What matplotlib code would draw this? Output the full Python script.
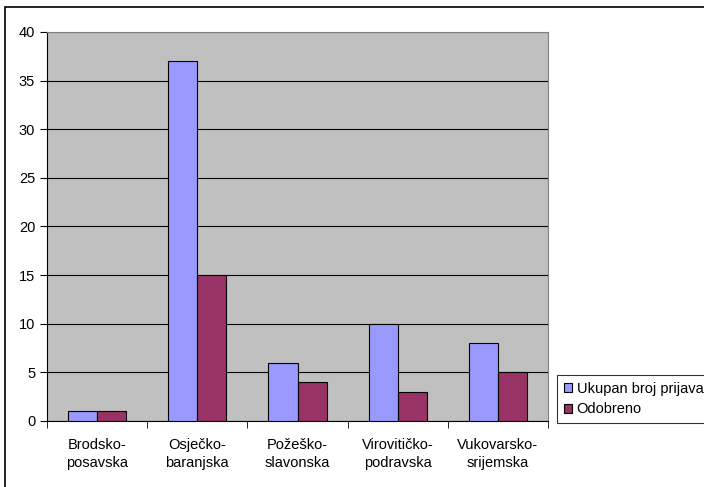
import matplotlib
matplotlib.use("Agg")
import matplotlib.pyplot as plt
import numpy as np
from matplotlib.patches import Rectangle

categories = ["Brodsko-\nposavska", "Osječko-\nbaranjska", "Požeško-\nslavonska", "Virovitičko-\npodravska", "Vukovarsko-\nsrijemska"]
ukupan = [1, 37, 6, 10, 8]
odobreno = [1, 15, 4, 3, 5]
series_names = ["Ukupan broj prijava", "Odobreno"]
yticks = [0, 5, 10, 15, 20, 25, 30, 35, 40]

plt.rcParams['font.family'] = ['Liberation Sans', 'DejaVu Sans']
fig = plt.figure(figsize=(7.04, 4.87), dpi=100)
fig.patches.append(Rectangle((5/704, -0.1), 1.0, 1.1 - 7/487, transform=fig.transFigure,
                             fill=False, edgecolor='black', linewidth=1.2))
ax = fig.add_axes([47/704, 1-421/487, (548-47)/704, (421-32)/487])
ax.set_facecolor('#C0C0C0')
x = np.arange(len(categories))
w = 0.29
ax.bar(x - w/2, ukupan, w, color='#9999FF', edgecolor='black', linewidth=0.8, label=series_names[0], zorder=3)
ax.bar(x + w/2, odobreno, w, color='#993366', edgecolor='black', linewidth=0.8, label=series_names[1], zorder=3)
ax.set_xlim(-0.5, len(categories) - 0.5)
ax.set_ylim(0, 40)
ax.set_yticks(yticks)
ax.yaxis.grid(True, color='black', linewidth=0.8, zorder=1)
ax.set_axisbelow(True)
ax.set_xticks(x)
ax.set_xticklabels(categories, fontsize=10.5, linespacing=1.35)
ax.set_xticks(np.arange(len(categories) + 1) - 0.5, minor=True)
ax.tick_params(axis='x', which='major', length=0, pad=12)
ax.tick_params(axis='x', which='minor', length=5, direction='out')
ax.tick_params(axis='y', labelsize=10.5, length=5, direction='out')
for s in ['top', 'right']:
    ax.spines[s].set_color('#808080')
for s in ['left', 'bottom']:
    ax.spines[s].set_color('black')
leg = fig.legend(loc='lower left', bbox_to_anchor=(557/704, 1-423/487, (720-557)/704, (423-372)/487),
                 mode='expand', frameon=True, fancybox=False,
                 edgecolor='black', fontsize=10.5, handlelength=0.6, handleheight=0.6, handletextpad=0.3,
                 borderpad=0.45, labelspacing=0.45, borderaxespad=0)
leg.get_frame().set_linewidth(0.8)
fig.savefig("out.png", dpi=100)
